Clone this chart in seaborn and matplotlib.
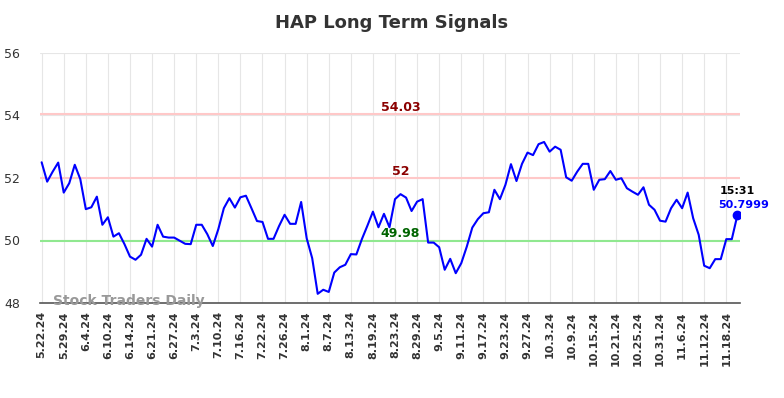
import numpy as np
import pandas as pd
import seaborn as sns
import matplotlib.pyplot as plt

# closing values, one per trading day
values = [52.50, 51.88, 52.20, 52.49, 51.53, 51.83, 52.42, 51.96, 51.00, 51.06,
          51.40, 50.50, 50.74, 50.12, 50.23, 49.88, 49.48, 49.38, 49.54, 50.05,
          49.80, 50.50, 50.12, 50.09, 50.09, 49.99, 49.89, 49.88, 50.50, 50.50,
          50.20, 49.82, 50.36, 51.03, 51.35, 51.05, 51.38, 51.43, 51.03, 50.62,
          50.59, 50.05, 50.05, 50.46, 50.82, 50.53, 50.53, 51.23, 50.07, 49.43,
          48.29, 48.42, 48.35, 48.97, 49.14, 49.22, 49.56, 49.55, 50.04, 50.47,
          50.92, 50.42, 50.85, 50.42, 51.32, 51.48, 51.37, 50.94, 51.24, 51.32,
          49.93, 49.93, 49.78, 49.06, 49.41, 48.95, 49.27, 49.80, 50.41, 50.68,
          50.87, 50.90, 51.62, 51.32, 51.78, 52.44, 51.90, 52.45, 52.81, 52.73,
          53.08, 53.15, 52.84, 53.00, 52.90, 52.02, 51.91, 52.20, 52.45, 52.45,
          51.62, 51.94, 51.96, 52.22, 51.94, 51.99, 51.67, 51.56, 51.46, 51.70,
          51.14, 50.98, 50.63, 50.60, 51.03, 51.30, 51.03, 51.53, 50.71, 50.18,
          49.19, 49.11, 49.40, 49.40, 50.04, 50.04, 50.7999]

tick_labels = ["5.22.24", "5.29.24", "6.4.24", "6.10.24", "6.14.24", "6.21.24",
               "6.27.24", "7.3.24", "7.10.24", "7.16.24", "7.22.24", "7.26.24",
               "8.1.24", "8.7.24", "8.13.24", "8.19.24", "8.23.24", "8.29.24",
               "9.5.24", "9.11.24", "9.17.24", "9.23.24", "9.27.24", "10.3.24",
               "10.9.24", "10.15.24", "10.21.24", "10.25.24", "10.31.24",
               "11.6.24", "11.12.24", "11.18.24"]
tick_step = 4

upper_levels = [54.03, 52]
lower_level = 49.98
last_time = "15:31"

df = pd.DataFrame({"idx": np.arange(len(values)), "price": values})

sns.set_style("whitegrid")
plt.rcParams['font.family'] = ['DejaVu Sans']

fig = plt.figure(figsize=(7.84, 3.98), dpi=100)
ax = fig.add_axes([0.051, 0.239, 0.893, 0.628])

sns.lineplot(data=df, x="idx", y="price", color="#0000ff", linewidth=1.5, ax=ax)

for lvl in upper_levels:
    ax.axhline(lvl, color="#ffc8c8", linewidth=1.5, zorder=1)
ax.axhline(lower_level, color="#90e890", linewidth=1.5, zorder=1)

# level labels sit in the middle of the chart
mid = 65
ax.text(mid, upper_levels[0] + 0.03, f"{upper_levels[0]:g}", color="#8b0000",
        fontsize=9, fontweight="bold", ha="center", va="bottom")
ax.text(mid, upper_levels[1] + 0.0, f"{upper_levels[1]:g}", color="#8b0000",
        fontsize=9, fontweight="bold", ha="center", va="bottom")
ax.text(mid, lower_level + 0.02, f"{lower_level:g}", color="#006400",
        fontsize=9, fontweight="bold", ha="center", va="bottom")

last_i = len(values) - 1
ax.plot(last_i, values[-1], "o", color="#0000ff", markersize=6, zorder=5)
ax.text(last_i, values[-1] + 0.78, last_time, color="black", fontsize=8,
        fontweight="bold", ha="center", va="center")
ax.text(last_i + 1.2, values[-1] + 0.34, f"{values[-1]:g}", color="#0000ff", fontsize=8,
        fontweight="bold", ha="center", va="center")

ax.text(2, 48.05, "Stock Traders Daily", color="#999999", fontsize=10,
        fontweight="bold", ha="left", va="center", zorder=6)

ax.set_xlim(-0.3, 126.5)
ax.set_ylim(48, 56)
ax.set_yticks([48, 50, 52, 54, 56])
ax.set_xticks(np.arange(len(tick_labels)) * tick_step)
ax.set_xticklabels(tick_labels, rotation=90, fontweight="bold", fontsize=8)
ax.tick_params(axis="y", labelsize=9, colors="#333333", pad=11)
ax.tick_params(axis="x", colors="#333333", length=0, pad=6)
ax.grid(True, color="#e6e6e6", linewidth=0.8)
ax.set_xlabel("")
ax.set_ylabel("")

for side in ["left", "right", "top"]:
    ax.spines[side].set_visible(False)
ax.spines["bottom"].set_color("#555555")
ax.spines["bottom"].set_linewidth(1.2)

fig.suptitle("HAP Long Term Signals", x=0.5, y=0.965, fontsize=13,
             fontweight="bold", color="#333333")

fig.savefig("out.png", dpi=100)
